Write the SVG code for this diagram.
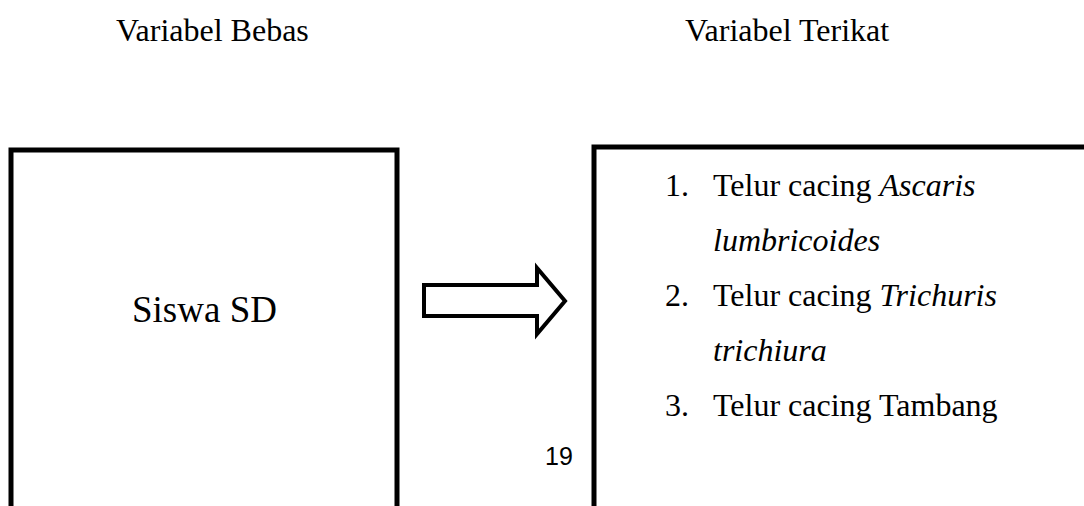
<svg xmlns="http://www.w3.org/2000/svg" width="1084" height="506" viewBox="0 0 1084 506">
<style>
text{font-family:'Liberation Serif','Times New Roman','DejaVu Serif',serif;fill:#000}
.box{fill:none;stroke:#000;stroke-width:5}
.i{font-style:italic}
</style>
<rect width="1084" height="506" fill="#fff"/>
<text x="116" y="41" font-size="32" font-family="Liberation Serif, serif">Variabel Bebas</text>
<text x="685" y="41" font-size="32" font-family="Liberation Serif, serif">Variabel Terikat</text>
<g id="node-siswa">
<path class="box" d="M11,520 V150 H397 V520"/>
<text x="132" y="322" font-size="37" font-family="Liberation Serif, serif">Siswa SD</text>
</g>
<g id="connectors">
<polygon points="424,285 537,285 537,268 565,301 537,334 537,316 424,316" fill="#fff" stroke="#000" stroke-width="4" stroke-linejoin="miter"/>
</g>
<g id="node-telur" font-size="32" font-family="Liberation Serif, serif">
<path class="box" d="M594,520 V147 H1100"/>
<text x="665" y="196">1.</text>
<text x="713" y="196">Telur cacing <tspan class="i">Ascaris</tspan></text>
<text x="713" y="251" class="i">lumbricoides</text>
<text x="665" y="306">2.</text>
<text x="713" y="306">Telur cacing <tspan class="i">Trichuris</tspan></text>
<text x="713" y="361" class="i">trichiura</text>
<text x="665" y="416">3.</text>
<text x="713" y="416">Telur cacing Tambang</text>
</g>
<text x="545" y="465" font-size="25" style="font-family:'Liberation Sans',Arial,sans-serif">19</text>
</svg>
